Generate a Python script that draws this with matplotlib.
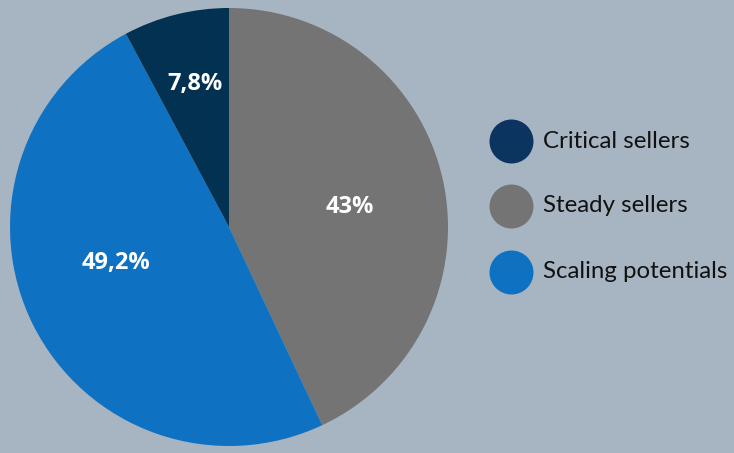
import matplotlib
matplotlib.use('Agg')
import matplotlib.pyplot as plt

categories = ['Steady sellers', 'Scaling potentials', 'Critical sellers']
shares = [43.0, 49.2, 7.8]
pct_labels = ['43%', '49,2%', '7,8%']
legend_order = ['Critical sellers', 'Steady sellers', 'Scaling potentials']

slice_colors = {'Steady sellers': '#747474', 'Scaling potentials': '#0f71c1', 'Critical sellers': '#033152'}
legend_colors = {'Steady sellers': '#747474', 'Scaling potentials': '#0f71c1', 'Critical sellers': '#0b3560'}
bg = '#a7b4c1'

plt.rcParams['font.family'] = ['Lato', 'DejaVu Sans']

W, H = 734, 453
fig = plt.figure(figsize=(W / 100, H / 100), dpi=100, facecolor=bg)

# pie axis: 438 px square, centred at (229, 227)
ax = fig.add_axes([10 / W, 7 / H, 438 / W, 438 / H])
ax.set_facecolor(bg)
wedges, _ = ax.pie(shares, colors=[slice_colors[c] for c in categories],
                   startangle=90, counterclock=False, radius=1.0,
                   wedgeprops=dict(linewidth=0))
ax.set_xlim(-1, 1)
ax.set_ylim(-1, 1)
ax.set_aspect('equal')
ax.axis('off')

# label anchor points (baseline centre), in pie radius units
label_pos = [(0.553, 0.064), (-0.516, -0.192), (-0.155, 0.626)]
for txt, (x, y) in zip(pct_labels, label_pos):
    ax.text(x, y, txt, ha='center', va='baseline', color='white',
            fontsize=17, fontweight='bold', family=['Open Sans', 'DejaVu Sans'])

# legend drawn on an overlay axis in pixel coordinates
lg = fig.add_axes([0, 0, 1, 1])
lg.set_xlim(0, W)
lg.set_ylim(H, 0)
lg.axis('off')
ys = [141, 206, 272]
for name, y in zip(legend_order, ys):
    lg.scatter([511], [y], s=(44 * 0.72) ** 2, color=legend_colors[name], linewidths=0)
    lg.text(543, y, name, ha='left', va='center', color='#111111', fontsize=17.3)

fig.savefig('out.png', dpi=100, facecolor=bg)
